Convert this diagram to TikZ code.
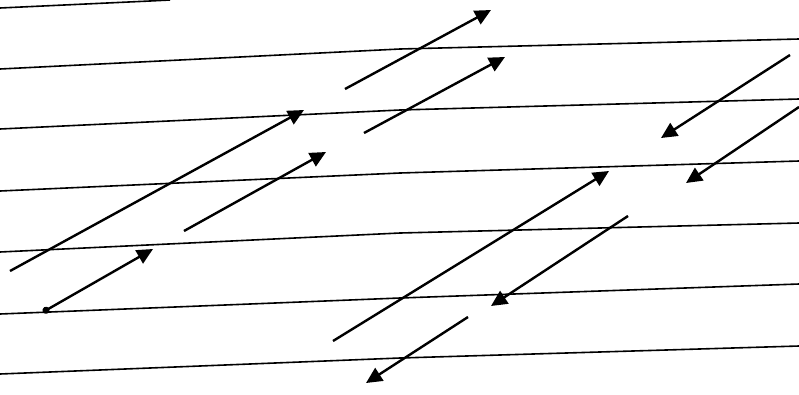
\documentclass[tikz,border=0pt]{standalone}
\usetikzlibrary{arrows.meta}
\begin{document}
\begin{tikzpicture}[x=1pt,y=-1pt,
  ruled/.style={line width=1.6pt, black},
  vec/.style={line width=2.4pt, black, -{Triangle[length=16pt,width=15pt]}},
  vecdot/.style={line width=2.4pt, black, {Circle[length=7pt]}-{Triangle[length=16pt,width=15pt]}}]
\useasboundingbox[fill=white] (0,0) rectangle (799,394);
% ruled lines
\draw[ruled] (0,8) -- (150,1) -- (170,0);
\draw[ruled] (0,69) -- (400,49) -- (799,39);
\draw[ruled] (0,129) -- (400,110) -- (799,99);
\draw[ruled] (0,191) -- (400,173) -- (799,161);
\draw[ruled] (0,252) -- (400,233) -- (799,223);
\draw[ruled] (0,314) -- (400,298) -- (799,284);
\draw[ruled] (0,374) -- (400,358) -- (799,346);
% arrow endpoints
\coordinate (a1) at (345,89);  \coordinate (b1) at (491,10);
\coordinate (a2) at (364,133); \coordinate (b2) at (505,57);
\coordinate (a3) at (10,271);  \coordinate (b3) at (304,110);
\coordinate (a4) at (184,231); \coordinate (b4) at (326,152);
\coordinate (a5) at (43,312);  \coordinate (b5) at (153,249);
\coordinate (a6) at (790,55);  \coordinate (b6) at (661,138);
\coordinate (a7) at (799,107); \coordinate (b7) at (686,183);
\coordinate (a8) at (333,341); \coordinate (b8) at (609,171);
\coordinate (a9) at (628,216); \coordinate (b9) at (491,306);
\coordinate (a10) at (468,317); \coordinate (b10) at (366,383);
% arrows
\draw[vec] (a1) -- (b1);
\draw[vec] (a2) -- (b2);
\draw[vec] (a3) -- (b3);
\draw[vec] (a4) -- (b4);
\draw[vecdot] (a5) -- (b5);
\draw[vec] (a6) -- (b6);
\draw[vec] (a7) -- (b7);
\draw[vec] (a8) -- (b8);
\draw[vec] (a9) -- (b9);
\draw[vec] (a10) -- (b10);
\end{tikzpicture}
\end{document}
